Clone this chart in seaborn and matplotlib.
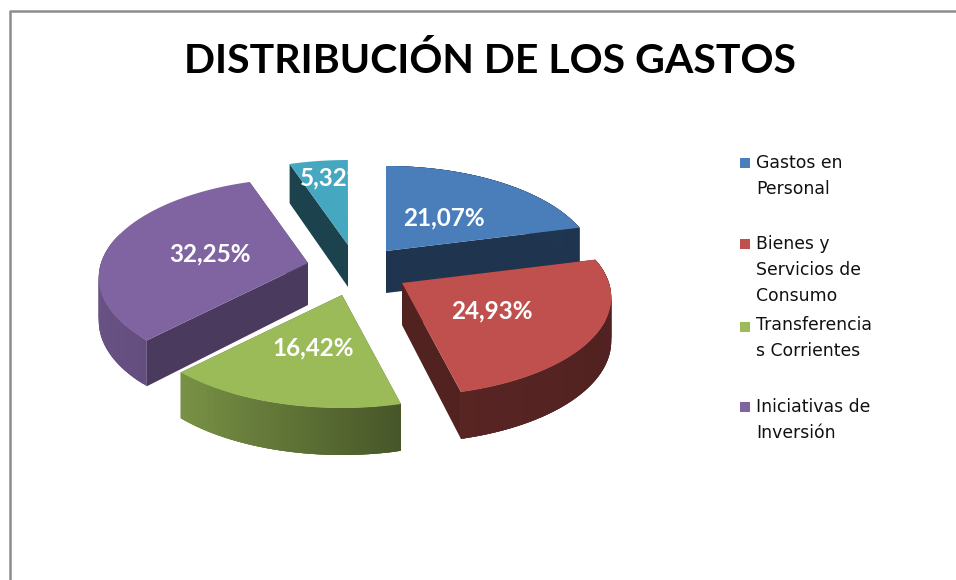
import numpy as np
import matplotlib
matplotlib.use('Agg')
import matplotlib.pyplot as plt
import seaborn as sns

# Data
title = 'DISTRIBUCIÓN DE LOS GASTOS'
values = [21.07, 24.93, 16.42, 32.25, 5.32]
value_labels = ['21,07%', '24,93%', '16,42%', '32,25%', '5,32%']
legend_lines = [['Gastos en', 'Personal'],
                ['Bienes y', 'Servicios de', 'Consumo'],
                ['Transferencia', 's Corrientes'],
                ['Iniciativas de', 'Inversión']]
colors = sns.color_palette(['#4A7EBB', '#C0504D', '#9BBB59', '#8064A2', '#46A7C0'])

# Layout, in pixels of the 956x580 picture
apex_x = [386, 402, 342, 308, 348]
apex_y = [251, 283, 295, 263, 245]
face_shade = [0.42, 0.42, 0.45, 0.58, 0.40]
label_frac_x = [0.52, 0.47, 0.46, 0.50, 0.50]
label_frac_y = [0.48, 0.51, 0.49, 0.41, 0.80]
legend_y = [163, 244, 327, 407]
text_y = [163, 244, 325, 407]
draw_order = [0, 4, 3, 2, 1]

RX, RY, K, M = 207, 99, 0.15, 14

sns.set_theme(style='white')
plt.rcParams['font.family'] = ['Lato', 'DejaVu Sans']

fig, ax = plt.subplots(figsize=(9.56, 5.8), dpi=100)
ax.set_position([0, 0, 1, 1])
ax.set_xlim(0, 956)
ax.set_ylim(580, 0)
ax.axis('off')


# Pie point with the perspective of the tilted 3D chart
def project(theta):
    s, c = np.sin(theta), np.cos(theta)
    return RX * s * (1 - K * c), -c * (RY - M * c)


def depth(theta):
    return 43 - 4 * np.cos(theta)


def shade(color, f):
    return tuple(np.array(color) * f)


ends = np.cumsum([0] + values) / 100 * 2 * np.pi

for i in draw_order:
    t = np.linspace(ends[i], ends[i + 1], 80)
    dx, dy = project(t)
    x = apex_x[i] + dx
    y = apex_y[i] + dy
    d = depth(t)
    col = colors[i]
    ax0, ay0 = apex_x[i], apex_y[i]

    # side walls, back ones first
    walls = []
    for j in (0, -1):
        wx = [ax0, x[j], x[j], ax0]
        wy = [ay0, y[j], y[j] + d[j], ay0 + 42]
        walls.append((np.mean(wy), wx, wy, shade(col, face_shade[i])))
    walls.sort(key=lambda w: w[0])
    for _, wx, wy, c in walls:
        ax.fill(wx, wy, color=c, lw=0, zorder=1)

    # outer rim, shaded along the arc; quads overlap so no seams show
    light = np.interp(np.sin(t), [-1, -0.7, 0.25, 1], [0.82, 0.78, 0.46, 0.42])
    for j in range(len(t) - 1):
        if np.cos(t[j]) > 0.25 and np.sin(t[j]) < 0:
            continue
        k = min(j + 3, len(t) - 1)
        ax.fill([x[j], x[k], x[k], x[j]],
                [y[j], y[k], y[k] + d[k], y[j] + d[j]],
                color=shade(col, light[j]), lw=0, zorder=1)

    # top face
    ax.fill(np.r_[ax0, x], np.r_[ay0, y], color=col, lw=0, zorder=1)

    mid = (ends[i] + ends[i + 1]) / 2
    mx, my = project(mid)
    ax.text(ax0 + mx * label_frac_x[i], ay0 + my * label_frac_y[i], value_labels[i],
            color='white', fontsize=17.5, fontweight='bold', ha='center', va='center', zorder=5)

# Legend
sns.scatterplot(x=[745] * 4, y=legend_y, hue=[0, 1, 2, 3], palette=colors[:4], marker='s',
                s=62, linewidth=0, legend=False, ax=ax, zorder=5)
for lines, y0 in zip(legend_lines, text_y):
    for n, line in enumerate(lines):
        ax.text(756, y0 + 26 * n, line, fontsize=12.4, family='DejaVu Sans', color='#111111',
                va='center', ha='left')

ax.text(490.5, 61, title, fontsize=29.5, fontweight='bold', color='black', ha='center', va='center')

# Chart frame, cut by the screenshot on the right and bottom
ax.plot([10.5, 10.5, 956], [580, 10.5, 10.5], color='#8c8c8c', lw=1.8)

fig.savefig('out.png', dpi=100)
